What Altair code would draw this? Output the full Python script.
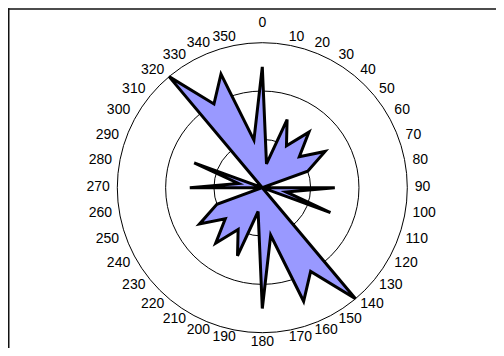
import altair as alt
import pandas as pd

# ---- data ----
angles = list(range(0, 360, 10))
values = [5, 1, 3, 2, 3, 2, 3, 2, 0, 3, 1, 3, 0, 0, 6, 4, 5, 2,
          5, 1, 3, 2, 3, 2, 3, 2, 0, 3, 1, 3, 0, 0, 6, 4, 5, 2]
labels = [str(a) for a in angles]
rings = [2, 4, 6]
max_value = 6

# ---- layout ----
W, H = 488, 340
R_PX = 145.0
CX, CY = 254.3, 179.7
k = R_PX / max_value
xscale = alt.Scale(domain=[-CX / k, (W - CX) / k], nice=False, zero=False)
yscale = alt.Scale(domain=[-(H - CY) / k, CY / k], nice=False, zero=False)

df = pd.DataFrame({"angle": angles, "value": values, "label": labels})
rings_df = pd.DataFrame({"r": rings})

X = lambda f: alt.X(f, type="quantitative", scale=xscale, axis=None)
Y = lambda f: alt.Y(f, type="quantitative", scale=yscale, axis=None)

one = pd.DataFrame({"a": [0]})
frame_top = alt.Chart(one).mark_rule(stroke="#111111", strokeWidth=1.5).encode(
    x=alt.value(0), x2=alt.value(W), y=alt.value(1))
frame_left = alt.Chart(one).mark_rule(stroke="#111111", strokeWidth=1.5).encode(
    x=alt.value(0.75), y=alt.value(0.25), y2=alt.value(H))

ring_layer = alt.Chart(rings_df).transform_calculate(cx="0", cy="0").mark_point(
    shape="circle", filled=False, stroke="black", strokeWidth=1, opacity=1
).encode(
    x=X("cx"), y=Y("cy"),
    size=alt.Size("r:Q", scale=alt.Scale(type="pow", exponent=2, domain=[0, max_value],
                                         range=[0, (2 * R_PX) ** 2]), legend=None),
)

poly = alt.Chart(df).transform_calculate(
    px="datum.value * sin(datum.angle * PI / 180)",
    py="datum.value * cos(datum.angle * PI / 180)",
).mark_line(
    interpolate="linear-closed", fill="#9999FF", stroke="black", strokeWidth=3,
    strokeJoin="miter", strokeMiterLimit=4
).encode(x=X("px"), y=Y("py"), order=alt.Order("angle:Q"))

lab_base = alt.Chart(df).transform_calculate(
    lr=f"(datum.angle == 0 ? 163.4 : (datum.angle == 180 ? 155 : 152.5)) / {k}",
).transform_calculate(
    lx="datum.lr * sin(datum.angle * PI / 180)",
    ly="datum.lr * cos(datum.angle * PI / 180)",
)
text_kw = dict(font="Liberation Sans", fontSize=14, color="black", baseline="middle", dy=-1)
lab_right = lab_base.transform_filter("datum.angle > 0 && datum.angle < 180").mark_text(
    align="left", **text_kw).encode(x=X("lx"), y=Y("ly"), text="label:N")
lab_left = lab_base.transform_filter("datum.angle > 180").mark_text(
    align="right", **text_kw).encode(x=X("lx"), y=Y("ly"), text="label:N")
lab_mid = lab_base.transform_filter("datum.angle == 0 || datum.angle == 180").mark_text(
    align="center", **text_kw).encode(x=X("lx"), y=Y("ly"), text="label:N")

chart = alt.layer(frame_top, frame_left, ring_layer, poly, lab_right, lab_left, lab_mid).properties(
    width=W, height=H, padding=0, autosize=alt.AutoSizeParams(type="none")
).configure(background="white", view=alt.ViewConfig(stroke=None, strokeWidth=0))

chart.save("out.html", embed_options={"renderer": "svg", "actions": False})
